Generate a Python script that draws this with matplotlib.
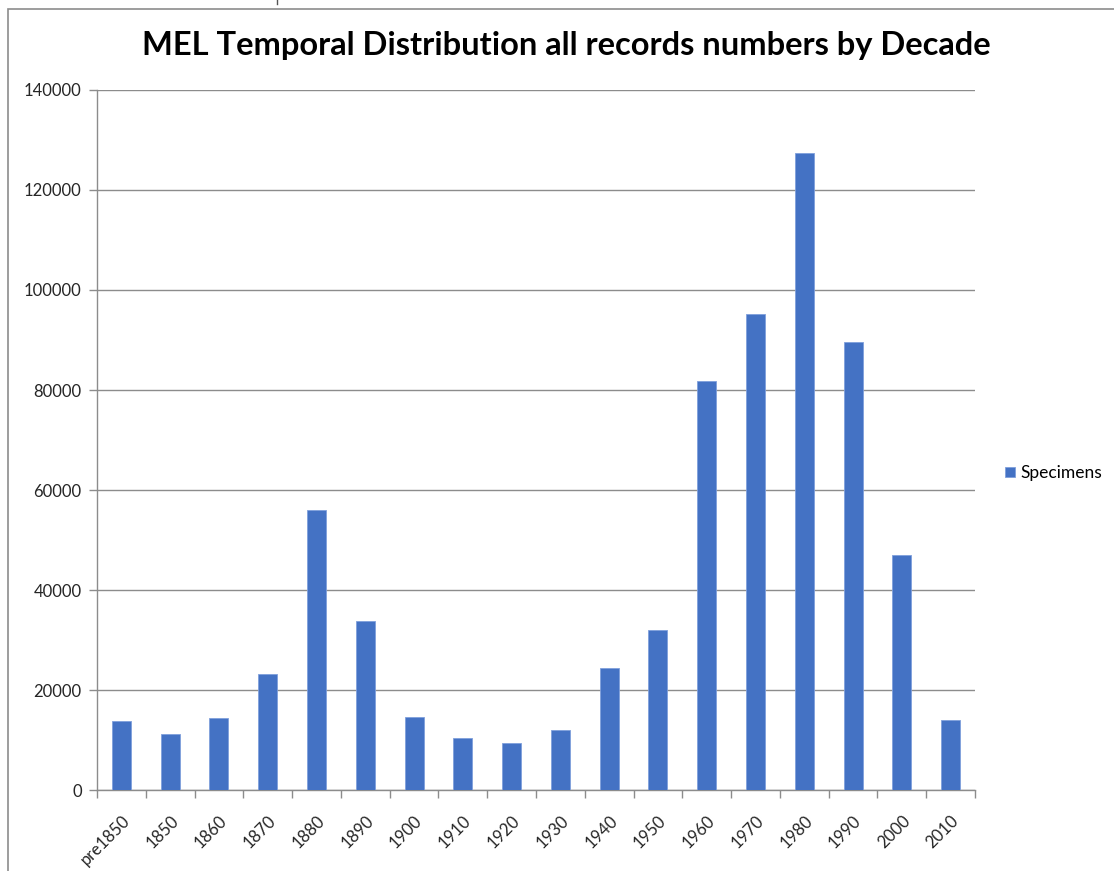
import numpy as np
import matplotlib.pyplot as plt
from matplotlib.patches import Rectangle
from matplotlib.lines import Line2D

# data
decades = ["pre1850", "1850", "1860", "1870", "1880", "1890", "1900", "1910", "1920",
           "1930", "1940", "1950", "1960", "1970", "1980", "1990", "2000", "2010"]
specimens = [13900, 11300, 14500, 23300, 55900, 33800, 14700, 10400, 9500,
             12100, 24500, 32100, 81700, 95100, 127300, 89500, 47000, 14000]

bar_color = "#4472C4"
grid_color = "#8c8c8c"
text_color = "#262626"
plt.rcParams['font.family'] = ['Lato', 'DejaVu Sans']

fig = plt.figure(figsize=(11.14, 8.71), dpi=100)
ax = fig.add_axes([97 / 1114, 1 - 790 / 871, (975 - 97) / 1114, 700 / 871])

x = np.arange(len(decades))
ax.bar(x, specimens, width=0.39, color=bar_color, edgecolor="#7f9fdc",
       linewidth=0.6, label="Specimens", zorder=3)

ax.set_xlim(-0.5, len(decades) - 0.5)
ax.set_ylim(0, 140000)
ax.set_yticks(np.arange(0, 140001, 20000))
ax.set_yticklabels([str(v) for v in range(0, 140001, 20000)], fontsize=12, color=text_color)
ax.yaxis.grid(True, color=grid_color, linewidth=1.0, zorder=0)

ax.set_xticks(x)
ax.set_xticklabels(decades, rotation=45, ha="right", rotation_mode="anchor",
                   fontsize=12, color=text_color)
ax.set_xticks(np.arange(-0.5, len(decades)), minor=True)
ax.tick_params(axis="x", which="major", length=0, pad=16)
ax.tick_params(axis="x", which="minor", length=6, color=grid_color, width=1)
ax.tick_params(axis="y", length=6, color=grid_color, width=1, pad=5)

for s in ["top", "right"]:
    ax.spines[s].set_visible(False)
for s in ["left", "bottom"]:
    ax.spines[s].set_color(grid_color)
    ax.spines[s].set_linewidth(1)

fig.text(566 / 1114, 1 - 46 / 871, "MEL Temporal Distribution all records numbers by Decade",
         ha="center", va="center", fontsize=23.5, fontweight="bold", color="black")

ax.legend(loc="center left", bbox_to_anchor=(1005 / 1114, 1 - 473 / 871),
          bbox_transform=fig.transFigure, frameon=False, fontsize=12.5,
          handlelength=0.55, handleheight=0.55, handletextpad=0.35, borderpad=0,
          borderaxespad=0)

# chart area border (partly cropped in the source screenshot)
fig.patches.append(Rectangle((8 / 1114, -0.1), 1.2, 1 - 9 / 871 + 0.1,
                             transform=fig.transFigure, fill=False,
                             edgecolor="#8c8c8c", linewidth=1.2))
fig.lines.append(Line2D([277 / 1114, 277 / 1114], [1, 1 - 4 / 871],
                        transform=fig.transFigure, color="#555555", linewidth=1))

fig.savefig("out.png", dpi=100, facecolor="white")
